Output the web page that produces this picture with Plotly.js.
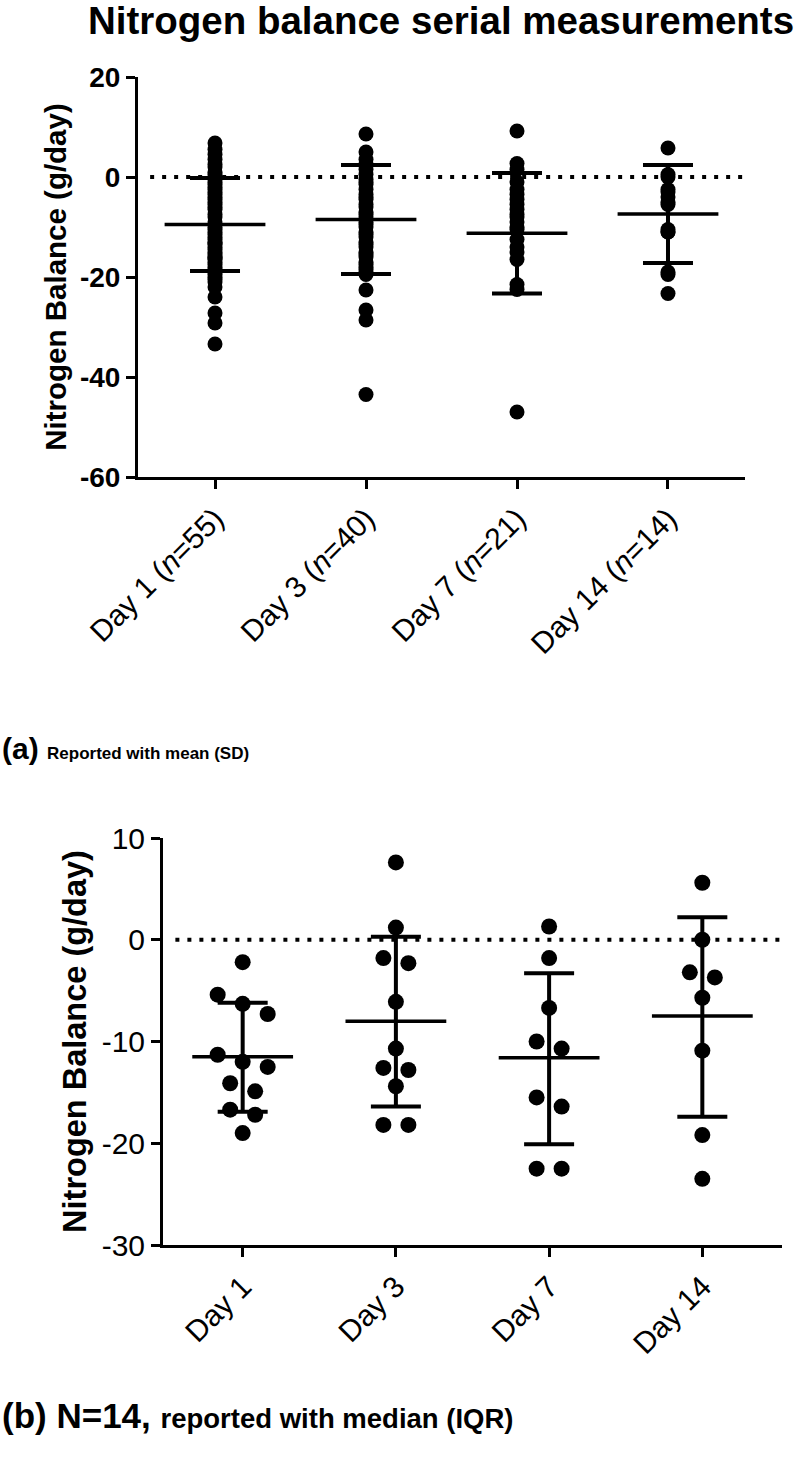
<!DOCTYPE html>
<html>
<head>
<meta charset="utf-8">
<script src="https://cdn.plot.ly/plotly-3.0.1.min.js"></script>
<style>
html,body{margin:0;padding:0;background:#ffffff;}
#chart{width:800px;height:1459px;}
</style>
</head>
<body>
<div id="chart"></div>
<script>
// ---------- DATA ----------
const topTickLabels = ["Day 1 (<i>n</i>=55)", "Day 3 (<i>n</i>=40)", "Day 7 (<i>n</i>=21)", "Day 14 (<i>n</i>=14)"];
const bottomTickLabels = ["Day 1", "Day 3", "Day 7", "Day 14"];

const topYTickVals = [-60, -40, -20, 0, 20];
const topYTickText = ["-60", "-40", "-20", "0", "20"];
const botYTickVals = [-30, -20, -10, 0, 10];
const botYTickText = ["-30", "-20", "-10", "0", "10"];

// (a) all measurements, g/day
const day1All = [6.8, 5.5, 4.5, 3.5, 2.5, 2, 1, 0.5, 0, -0.5, -1, -1.5, -2, -2.5, -3, -3.5, -4, -4.5, -5, -5.5, -6,
  -6.5, -7.5, -8, -9, -10, -10.5, -11, -11.5, -12, -12.5, -13, -13.2, -13.5, -14, -14.5, -15, -15.5, -16, -16.2,
  -16.5, -17, -17.5, -18, -18.5, -19, -19.5, -20, -20.5, -21, -22, -24, -27.2, -29.2, -33.4];
const day3All = [8.6, 5, 3.5, 2.5, 1.5, 0.5, -0.5, -1, -1.5, -2.5, -3.5, -4, -4.5, -5.5, -6, -7, -7.5, -8, -9, -9.5,
  -10, -11, -11.5, -12, -13, -13.5, -14, -15, -15.5, -16, -17, -17.5, -18, -18.5, -19, -19.5, -22.6, -26.6, -28.6, -43.5];
const day7All = [9.2, 2.7, 1.5, -1, -2.5, -3.5, -4.5, -5.5, -6.5, -7.5, -8, -9, -10, -10.5, -12.5, -14, -15, -16.5,
  -21.5, -22.5, -47];
const day14All = [5.8, 0.5, 0, -2.5, -3, -4, -5, -5.5, -10.5, -11, -11, -19, -19.5, -23.3];

const meanAll = [-9.5, -8.5, -11.25, -7.4];
const sdAll = [9.3, 10.9, 12.05, 9.8];

// (b) N=14 cohort, g/day
const day1Cohort = [-2.2, -5.4, -6.3, -7.3, -11.3, -12.0, -12.5, -14.1, -14.9, -16.7, -17.2, -19.0];
const day3Cohort = [7.6, 1.2, -1.8, -2.3, -6.1, -10.7, -12.6, -12.8, -14.4, -18.2, -18.2];
const day7Cohort = [1.3, -1.8, -6.7, -10.0, -10.7, -15.5, -16.4, -22.5, -22.5];
const day14Cohort = [5.6, 0.0, -3.2, -3.7, -5.7, -10.9, -19.2, -23.5];

const medianCohort = [-11.5, -8.0, -11.6, -7.5];
const q3Cohort = [-6.2, 0.3, -3.3, 2.2];
const q1Cohort = [-16.9, -16.4, -20.1, -17.4];

const referenceLine = 0;

// ---------- LAYOUT GEOMETRY ----------
const W = 800, H = 1459;
const FONT = "Liberation Sans, Arial, Helvetica, sans-serif";
const topBox = {l: 138, r: 745, t: 77, b: 477};
const botBox = {l: 163, r: 782, t: 838, b: 1245};
const topXRange = [-0.51, 3.51], topYRange = [-60, 20];
const botXRange = [-0.52, 3.52], botYRange = [-30, 10];

function dom(box) {
  return {x: [box.l / W, box.r / W], y: [1 - box.b / H, 1 - box.t / H]};
}
const dTop = dom(topBox), dBot = dom(botBox);

// ---------- HELPERS ----------
function column(values, idx) {
  return {x: values.map(() => idx), y: values};
}
// simple symmetric swarm for overlapping points
function swarm(values, idx, pxPerX, pxPerY, spreadPx, gapPx) {
  const order = values.map((v, i) => i).sort((a, b) => values[b] - values[a]);
  const xs = new Array(values.length);
  let cluster = [];
  const flush = () => {
    const k = cluster.length;
    cluster.forEach((j, n) => { xs[j] = idx + (n - (k - 1) / 2) * spreadPx / pxPerX; });
    cluster = [];
  };
  order.forEach((j) => {
    if (cluster.length && (values[cluster[cluster.length - 1]] - values[j]) * pxPerY >= gapPx) flush();
    cluster.push(j);
  });
  flush();
  return {x: xs, y: values};
}

const allSets = [day1All, day3All, day7All, day14All];
const cohortSets = [day1Cohort, day3Cohort, day7Cohort, day14Cohort];

const topX = [], topY = [];
allSets.forEach((s, i) => { const c = column(s, i); topX.push(...c.x); topY.push(...c.y); });

const botPxPerX = (botBox.r - botBox.l) / (botXRange[1] - botXRange[0]);
const botPxPerY = (botBox.b - botBox.t) / (botYRange[1] - botYRange[0]);
const botX = [], botY = [];
cohortSets.forEach((s, i) => { const c = swarm(s, i, botPxPerX, botPxPerY, 25, 14); botX.push(...c.x); botY.push(...c.y); });

const idx = [0, 1, 2, 3];

const traces = [
  {
    type: 'scatter', mode: 'markers', x: topX, y: topY, xaxis: 'x', yaxis: 'y',
    marker: {color: '#000', size: 15}, cliponaxis: false, showlegend: false, hoverinfo: 'y'
  },
  {
    type: 'scatter', mode: 'markers', x: idx, y: meanAll, xaxis: 'x', yaxis: 'y',
    marker: {symbol: 'line-ew', size: 72, color: '#000', line: {color: '#000', width: 3.5}},
    error_y: {type: 'data', array: sdAll, visible: true, color: '#000', thickness: 4, width: 25},
    cliponaxis: false, showlegend: false
  },
  {
    type: 'scatter', mode: 'markers', x: botX, y: botY, xaxis: 'x2', yaxis: 'y2',
    marker: {color: '#000', size: 16}, cliponaxis: false, showlegend: false, hoverinfo: 'y'
  },
  {
    type: 'scatter', mode: 'markers', x: idx, y: medianCohort, xaxis: 'x2', yaxis: 'y2',
    marker: {symbol: 'line-ew', size: 72, color: '#000', line: {color: '#000', width: 3.5}},
    error_y: {
      type: 'data', symmetric: false, visible: true, color: '#000', thickness: 4, width: 25,
      array: q3Cohort.map((q, i) => q - medianCohort[i]),
      arrayminus: q1Cohort.map((q, i) => medianCohort[i] - q)
    },
    cliponaxis: false, showlegend: false
  }
];

const axisCommon = {
  showline: true, linecolor: '#000', linewidth: 3, ticks: 'outside', ticklen: 9, tickwidth: 3,
  tickcolor: '#000', showgrid: false, zeroline: false, fixedrange: true
};

const layout = {
  width: W, height: H,
  margin: {l: 0, r: 0, t: 0, b: 0},
  paper_bgcolor: '#fff', plot_bgcolor: '#fff',
  font: {family: FONT, color: '#000'},
  showlegend: false,
  title: {
    text: '<b>Nitrogen balance serial measurements</b>',
    font: {family: FONT, size: 38.5, color: '#000'},
    x: 441 / W, xanchor: 'center', xref: 'paper',
    y: 1 - 21 / H, yanchor: 'middle', yref: 'paper'
  },
  xaxis: Object.assign({}, axisCommon, {
    domain: dTop.x, anchor: 'y', range: topXRange,
    tickmode: 'array', tickvals: idx, ticktext: topTickLabels, tickangle: -45,
    tickfont: {family: FONT, size: 30, color: '#000'}
  }),
  yaxis: Object.assign({}, axisCommon, {
    domain: dTop.y, anchor: 'x', range: topYRange,
    tickmode: 'array', tickvals: topYTickVals, ticktext: topYTickText,
    tickfont: {family: FONT, size: 28, color: '#000', weight: 700},
    title: {text: '<b>Nitrogen Balance (g/day)</b>', font: {family: FONT, size: 29.5, color: '#000'}, standoff: 5}
  }),
  xaxis2: Object.assign({}, axisCommon, {
    domain: dBot.x, anchor: 'y2', range: botXRange,
    tickmode: 'array', tickvals: idx, ticktext: bottomTickLabels, tickangle: -45,
    tickfont: {family: FONT, size: 30, color: '#000'}
  }),
  yaxis2: Object.assign({}, axisCommon, {
    domain: dBot.y, anchor: 'x2', range: botYRange,
    tickmode: 'array', tickvals: botYTickVals, ticktext: botYTickText,
    tickfont: {family: FONT, size: 30, color: '#000'},
    title: {text: '<b>Nitrogen Balance (g/day)</b>', font: {family: FONT, size: 32.5, color: '#000'}, standoff: 6}
  }),
  shapes: [
    {type: 'line', xref: 'x domain', yref: 'y', x0: 0.02, x1: 1, y0: referenceLine, y1: referenceLine,
     line: {color: '#000', width: 4, dash: '4px,8px'}, layer: 'below'},
    {type: 'line', xref: 'x2 domain', yref: 'y2', x0: 0.02, x1: 1, y0: referenceLine, y1: referenceLine,
     line: {color: '#000', width: 4, dash: '4px,8px'}, layer: 'below'}
  ],
  annotations: [
    {xref: 'paper', yref: 'paper', x: 0, y: 1 - 748 / H, xanchor: 'left', yanchor: 'middle', showarrow: false,
     text: '<b>(a)</b> <b><span style="font-size:17px">Reported with mean (SD)</span></b>',
     font: {family: FONT, size: 30, color: '#000'}},
    {xref: 'paper', yref: 'paper', x: 0, y: 1 - 1415 / H, xanchor: 'left', yanchor: 'middle', showarrow: false,
     text: '<b>(b) N=14,</b> <b><span style="font-size:27.5px">reported with median (IQR)</span></b>',
     font: {family: FONT, size: 35, color: '#000'}}
  ]
};

Plotly.newPlot('chart', traces, layout, {staticPlot: true, displayModeBar: false});
</script>
</body>
</html>
